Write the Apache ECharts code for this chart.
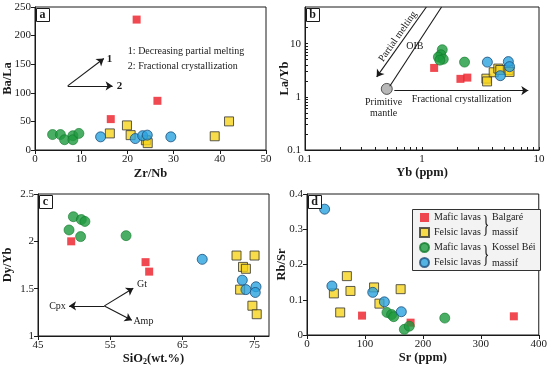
<!DOCTYPE html>
<html><head><meta charset="utf-8">
<script src="https://cdn.jsdelivr.net/npm/echarts@6/dist/echarts.min.js"></script>
<style>html,body{margin:0;padding:0;background:#fff}#c{width:550px;height:367px}</style>
</head><body><div id="c"></div>
<script>
// ---------- DATA ----------
const groupNames = ['Mafic lavas|Balgaré', 'Felsic lavas|Balgaré', 'Mafic lavas|Kossel', 'Felsic lavas|Kossel'];
// Panel a: Zr/Nb vs Ba/La
const aMaficB = [[16.4,54],[22.0,228],[26.5,86]];
const aFelsicB = [[16.2,29],[19.9,43],[20.7,26],[24.0,17],[24.4,12],[38.9,24],[42.0,50]];
const aMaficK = [[3.8,27],[5.5,27],[6.4,18],[8.2,25],[8.2,18],[9.5,29]];
const aFelsicK = [[14.2,23],[21.7,20],[23.3,25],[24.3,26],[29.4,23]];
// Panel b: Yb vs La/Yb
const bMaficB = [[1.27,3.5],[2.13,2.18],[2.44,2.3]];
const bFelsicB = [[3.55,2.2],[3.6,1.95],[4.1,2.9],[4.49,3.4],[4.67,3.2],[5.47,3.2],[5.6,2.94]];
const bMaficK = [[1.49,7.7],[1.45,6.2],[1.38,5.6],[1.52,5.1],[1.42,4.9],[2.31,4.5]];
const bFelsicK = [[3.62,4.5],[5.47,4.6],[5.6,3.7],[4.67,2.5]];
const primitiveMantle = [[0.5,1.41]];
// Panel c: SiO2 vs Dy/Yb
const cMaficB = [[49.6,2.0],[59.9,1.78],[60.4,1.68]];
const cFelsicB = [[72.5,1.85],[75.0,1.85],[73.4,1.73],[73.8,1.71],[73.0,1.49],[74.7,1.32],[75.3,1.23]];
const cMaficK = [[49.9,2.26],[51.0,2.23],[51.5,2.21],[49.3,2.12],[50.9,2.05],[57.2,2.06]];
const cFelsicK = [[67.75,1.81],[73.3,1.59],[73.8,1.49],[75.2,1.52],[75.1,1.46]];
// Panel d: Sr vs Rb/Sr
const dMaficB = [[95,0.055],[178.8,0.035],[357,0.053]];
const dFelsicB = [[68.8,0.167],[46.4,0.118],[75,0.125],[57.3,0.064],[115.8,0.135],[125,0.089],[161.6,0.130]];
const dMaficK = [[138,0.064],[146,0.058],[149.6,0.052],[168,0.016],[176.5,0.025],[237.8,0.048]];
const dFelsicK = [[30.4,0.357],[43,0.139],[113.5,0.121],[133.5,0.094],[162.8,0.066]];
// tick labels
const cTicks = [45,55,65,75];
const logLabels = [0.1,1,10];
const bxMinor = [0.1,0.2,0.3,0.4,0.5,0.6,0.7,0.8,0.9,1,2,3,4,5,6,7,8,9,10];
const byMinor = [0.1,0.2,0.3,0.4,0.5,0.6,0.7,0.8,0.9,1,2,3,4,5,6,7,8,9,10,20,30,40];
// annotation arrows (data coordinates)
const aArrows = [[[7.08,112],[14.9,160]],[[7.08,112],[16.8,112]]];
const bArrows = [[[1.09,49],[0.41,2.37]],[[0.58,1.31],[8.1,1.31]]];
const bOIB = [[0.53,1.58],[1.47,49]];
const cArrows = [[[54.2,1.318],[49.3,1.318]],[[54.2,1.318],[58.2,1.505]],[[54.2,1.318],[58.0,1.166]]];

// ---------- STYLE ----------
const FONT = '"Liberation Serif","Times New Roman",serif';
const INK = '#1a1a1a';
const styles = [
  {symbol:'rect', symbolSize:8, itemStyle:{color:'#ee1c25'}},
  {symbol:'rect', symbolSize:9, itemStyle:{color:'#f6d31b', borderColor:'#333', borderWidth:1}},
  {symbol:'circle', symbolSize:10, itemStyle:{color:'#1e9a3e', borderColor:'#137a2c', borderWidth:0.8}},
  {symbol:'circle', symbolSize:10, itemStyle:{color:'#2ba3df', borderColor:'#1d4f7c', borderWidth:1}}
];
const grids = [
  {left:35, top:7, width:231, height:143},
  {left:305, top:7, width:234, height:143},
  {left:38, top:194, width:231, height:142},
  {left:307, top:194, width:233, height:141}
];
function axis(o){
  return Object.assign({
    axisLine:{show:true, onZero:false, lineStyle:{color:INK, width:1}},
    axisTick:{show:true, length:4, lineStyle:{color:INK}},
    axisLabel:{color:INK, fontFamily:FONT, fontSize:11, margin:4},
    splitLine:{show:false},
    nameLocation:'middle',
    nameMoveOverlap:false,
    nameTextStyle:{fontFamily:FONT, fontWeight:'bold', fontSize:12.5, color:INK}
  }, o);
}
const xAxes = [
  axis({gridIndex:0, type:'value', min:0, max:50, interval:10, name:'Zr/Nb', nameGap:17.5}),
  axis({gridIndex:1, type:'log', logBase:10, min:0.1, max:10, name:'Yb (ppm)', nameGap:16.5,
    axisLabel:{color:INK, fontFamily:FONT, fontSize:11, margin:4, customValues:logLabels},
    axisTick:{show:true, inside:true, length:3, customValues:bxMinor, lineStyle:{color:INK}}}),
  axis({gridIndex:2, type:'value', min:45, max:77, name:'SiO{s|2}(wt.%)', nameGap:15,
    axisLabel:{color:INK, fontFamily:FONT, fontSize:11, margin:4, customValues:cTicks},
    axisTick:{show:true, length:4, customValues:cTicks, lineStyle:{color:INK}},
    nameTextStyle:{fontFamily:FONT, fontWeight:'bold', fontSize:12.5, color:INK,
      rich:{s:{fontFamily:FONT, fontWeight:'bold', fontSize:8, color:INK, padding:[7,0,0,0]}}}}),
  axis({gridIndex:3, type:'value', min:0, max:400, interval:100, name:'Sr (ppm)', nameGap:16})
];
const yAxes = [
  axis({gridIndex:0, type:'value', min:0, max:250, interval:50, name:'Ba/La', nameGap:20.5}),
  axis({gridIndex:1, type:'log', logBase:10, min:0.1, max:49, name:'La/Yb', nameGap:13.5,
    axisLabel:{color:INK, fontFamily:FONT, fontSize:11, margin:4, customValues:logLabels},
    axisTick:{show:true, inside:true, length:3, customValues:byMinor, lineStyle:{color:INK}}}),
  axis({gridIndex:2, type:'value', min:1, max:2.5, interval:0.5, name:'Dy/Yb', nameGap:23.5}),
  axis({gridIndex:3, type:'value', min:0, max:0.4, interval:0.1, name:'Rb/Sr', nameGap:18.5})
];

const panelData = [
  [aMaficB, aFelsicB, aMaficK, aFelsicK],
  [bMaficB, bFelsicB, bMaficK, bFelsicK],
  [cMaficB, cFelsicB, cMaficK, cFelsicK],
  [dMaficB, dFelsicB, dMaficK, dFelsicK]
];
const series = [];
panelData.forEach((sets, p) => {
  [0,1,2,3].forEach(g => {
    series.push(Object.assign({
      type:'scatter', name:groupNames[g], xAxisIndex:p, yAxisIndex:p,
      data:sets[g], silent:true, z:3
    }, styles[g]));
  });
});
series.push({type:'scatter', name:'PM', xAxisIndex:1, yAxisIndex:1, data:primitiveMantle,
  symbol:'circle', symbolSize:11, silent:true,
  itemStyle:{color:'#a6a6a6', borderColor:'#333', borderWidth:1}});

function arrowLines(list, sym){
  return list.map(a => [{coord:a[0], symbol:'none'},{coord:a[1], symbol:sym}]);
}
function txt(coord, text, o){
  return {coord, label:Object.assign({show:true, formatter:text, fontFamily:FONT, fontSize:10, color:INK,
    position:[0,0], align:'center', verticalAlign:'middle'}, o||{})};
}
function annot(xi, lines, texts){
  return {type:'scatter', name:'annot'+xi, xAxisIndex:xi, yAxisIndex:xi, data:[], silent:true,
    markLine:{silent:true, symbol:['none','arrow'], symbolSize:[7,7], label:{show:false},
      lineStyle:{color:INK, width:1.1, type:'solid'}, emphasis:{disabled:true}, animation:false, data:lines},
    markPoint:{silent:true, symbol:'circle', symbolSize:0, itemStyle:{color:'transparent'}, animation:false, data:texts}};
}
series.push(annot(0, arrowLines(aArrows,'arrow'), [
  txt([16.1,159],'1',{fontWeight:'bold', fontSize:11}),
  txt([18.3,111],'2',{fontWeight:'bold', fontSize:11}),
  txt([20.1,172],'1: Decreasing partial melting',{align:'left'}),
  txt([20.1,146],'2: Fractional crystallization',{align:'left'})
]));
series.push(annot(1, arrowLines(bArrows,'arrow').concat([[{coord:bOIB[0],symbol:'none'},{coord:bOIB[1],symbol:'none'}]]), [
  txt([0.62,13.6],'Partial melting',{rotate:55}),
  txt([0.87,8.8],'OIB'),
  txt([0.47,0.62],'Primitive\nmantle',{lineHeight:11}),
  txt([2.18,0.9],'Fractional crystallization')
]));
series.push(annot(2, arrowLines(cArrows,'arrow'), [
  txt([47.7,1.31],'Cpx'),
  txt([59.4,1.55],'Gt'),
  txt([59.6,1.15],'Amp')
]));

// panel letters, legend box, braces
const graphic = [];
['a','b','c','d'].forEach((l,i) => {
  const g = grids[i];
  graphic.push({type:'rect', left:g.left+1, top:g.top+1, shape:{width:13, height:13},
    style:{fill:'#fff', stroke:INK, lineWidth:1}, z:10});
  graphic.push({type:'text', x:g.left+7.5, y:g.top+7.5, style:{text:l, font:"bold 12px 'Liberation Serif',serif",
    fill:INK, align:'center', verticalAlign:'middle'}, z:11});
});
graphic.push({type:'rect', left:412, top:209, shape:{width:128, height:61},
  style:{fill:'#f3f3f3', stroke:'#333', lineWidth:1}, z:0});
[[225,'Balgaré'],[255.5,'Kossel Béi']].forEach(([cy,t]) => {
  graphic.push({type:'text', x:486, y:cy, scaleX:0.55, scaleY:1,
    style:{text:'}', font:"26px 'Liberation Serif',serif", fill:INK, align:'center', verticalAlign:'middle'}, z:11});
  graphic.push({type:'text', x:492, y:cy-8, style:{text:t, font:"10px 'Liberation Serif',serif", fill:INK, align:'left', verticalAlign:'middle'}, z:11});
  graphic.push({type:'text', x:492, y:cy+7.5, style:{text:'massif', font:"10px 'Liberation Serif',serif", fill:INK, align:'left', verticalAlign:'middle'}, z:11});
});

const chart = echarts.init(document.getElementById('c'), null, {renderer:'canvas'});
chart.setOption({
  animation:false,
  backgroundColor:'#fff',
  grid: grids.map(g => Object.assign({show:true, borderColor:INK, borderWidth:1, backgroundColor:'transparent'}, g)),
  xAxis:xAxes, yAxis:yAxes,
  legend:{data:groupNames, orient:'vertical', left:419, top:212, padding:0, itemGap:4,
    itemWidth:9, itemHeight:9, selectedMode:false, z:5,
    formatter:n => n.split('|')[0],
    textStyle:{fontFamily:FONT, fontSize:10, color:INK, lineHeight:11, padding:[0,0,0,0]}},
  graphic:graphic,
  series:series
});
</script></body></html>
